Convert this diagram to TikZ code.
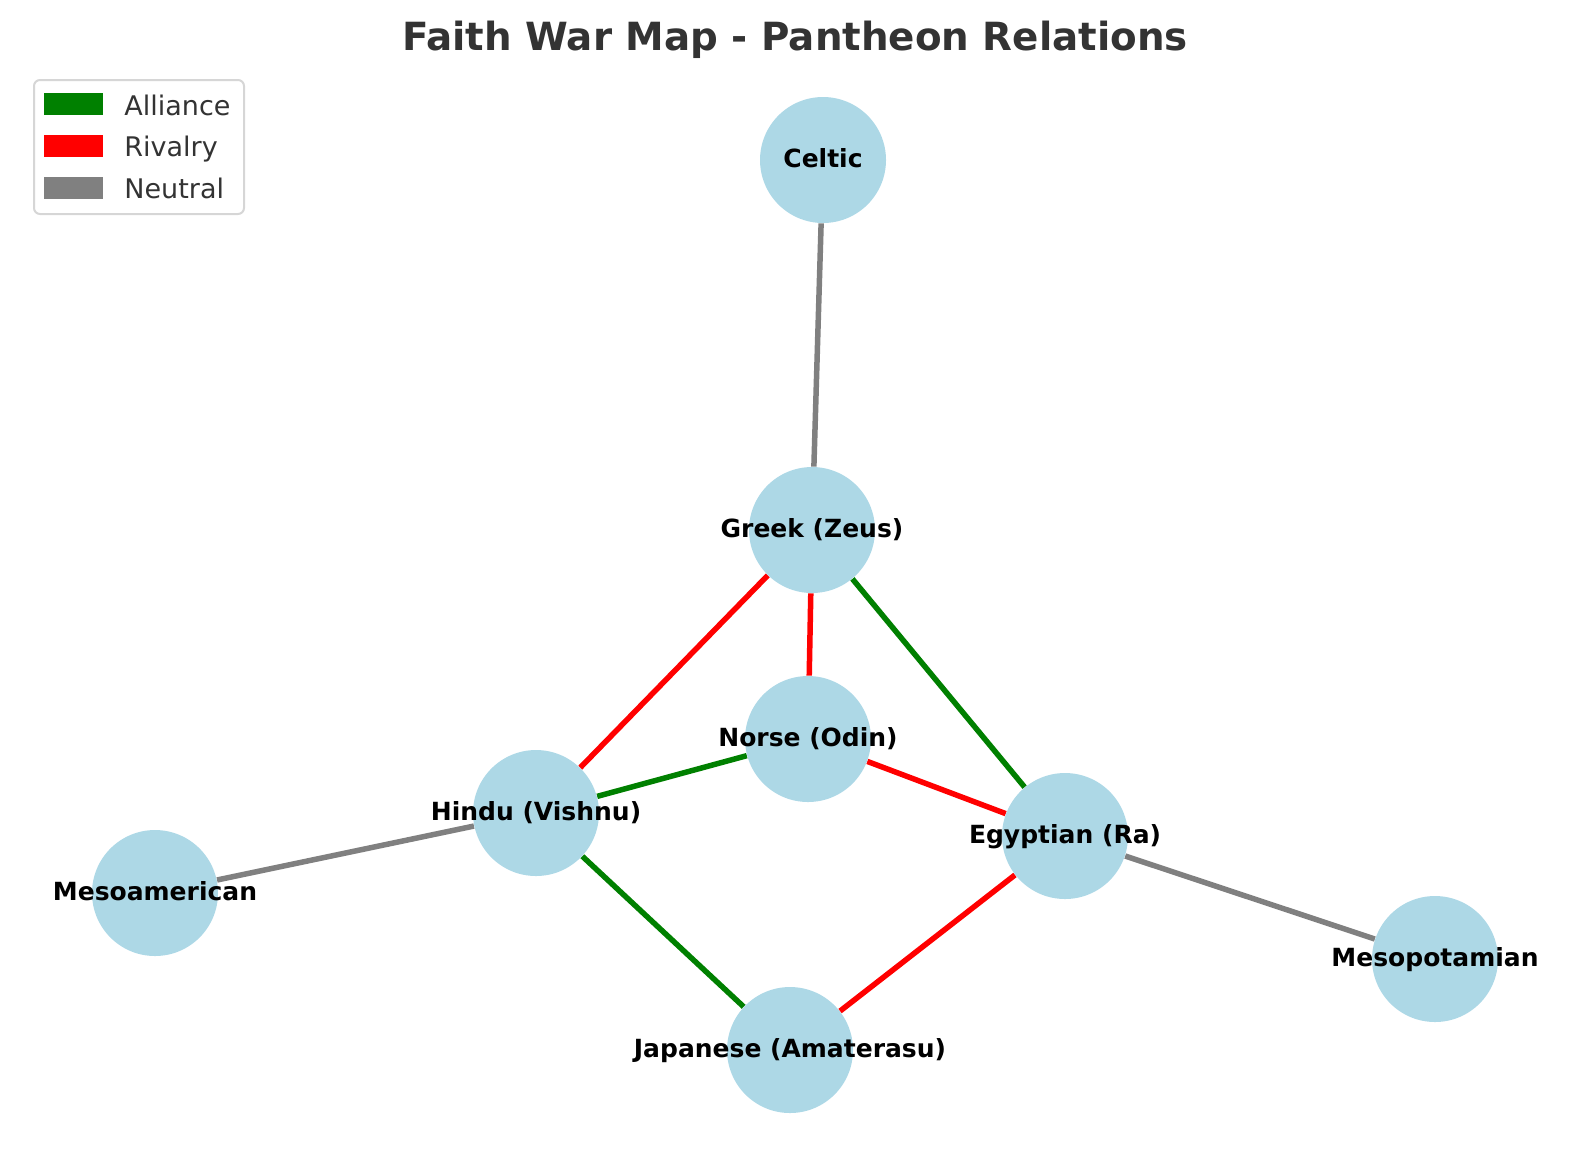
\documentclass[tikz,border=0pt]{standalone}
\usepackage{fontspec}
\setmainfont{DejaVu Sans}
\usetikzlibrary{backgrounds}
\definecolor{pantheon}{RGB}{173,216,230}
\definecolor{alliance}{RGB}{0,128,0}
\definecolor{rivalry}{RGB}{255,0,0}
\definecolor{neutral}{RGB}{128,128,128}
\definecolor{ink}{RGB}{51,51,51}
\definecolor{frame}{RGB}{214,214,214}

\begin{document}
\begin{tikzpicture}[x=.5pt,y=-.5pt,
 every node/.style={font=\fontsize{12.5}{15}\selectfont\bfseries,text=black},
 every label/.style={text height=10pt,text depth=2.5pt},
 faith/.style={circle,fill=pantheon,inner sep=0pt,minimum size=63pt},
 ally/.style={alliance,line width=2.75pt},
 rival/.style={rivalry,line width=2.75pt},
 plain/.style={neutral,line width=2.75pt},
 key/.style={inner sep=0pt,minimum width=29.5pt,minimum height=11pt},
 keytext/.style={anchor=base west,inner sep=0pt,text=ink,
  font=\fontsize{13.5}{16}\selectfont},
 heading/.style={font=\fontsize{19.4}{23}\selectfont\bfseries,text=ink,
  text height=15.5pt,text depth=3.9pt}]
 \path[use as bounding box] (0,0) rectangle (1589,1164);
 \node[heading] (title) at (795,39) {Faith War Map - Pantheon Relations};
 % Legend in the upper left corner.
 \draw[frame,line width=1pt,fill=white,rounded corners=3pt] (34,80) rectangle (244,214);
 \node[key,fill=alliance] (kally) at (73.5,104) {};
 \node[keytext] (tally) at (124,115) {Alliance};
 \node[key,fill=rivalry] (krival) at (73.5,145.5) {};
 \node[keytext] (trival) at (124,156.5) {Rivalry};
 \node[key,fill=neutral] (kplain) at (73.5,187.5) {};
 \node[keytext] (tplain) at (124,198.5) {Neutral};
 \node[faith,label=center:Celtic] (celtic) at (823,160) {};
 \node[faith,label=center:Greek (Zeus)] (greek) at (812,530) {};
 \node[faith,label=center:Norse (Odin)] (norse) at (808,739) {};
 \node[faith,label=center:Hindu (Vishnu)] (hindu) at (536,813) {};
 \node[faith,label=center:Egyptian (Ra)] (egypt) at (1065,836) {};
 \node[faith,label=center:Mesoamerican] (meso) at (155,893) {};
 \node[faith,label=center:Mesopotamian] (mesop) at (1435,959) {};
 \node[faith,label=center:Japanese (Amaterasu)] (japan) at (790,1050) {};
 \begin{scope}[on background layer]
  \draw[plain] (celtic) -- (greek);
  \draw[rival] (greek) -- (hindu);
  \draw[rival] (greek) -- (norse);
  \draw[ally] (greek) -- (egypt);
  \draw[ally] (hindu) -- (norse);
  \draw[rival] (norse) -- (egypt);
  \draw[plain] (hindu) -- (meso);
  \draw[ally] (hindu) -- (japan);
  \draw[rival] (egypt) -- (japan);
  \draw[plain] (egypt) -- (mesop);
 \end{scope}
\end{tikzpicture}
\end{document}
